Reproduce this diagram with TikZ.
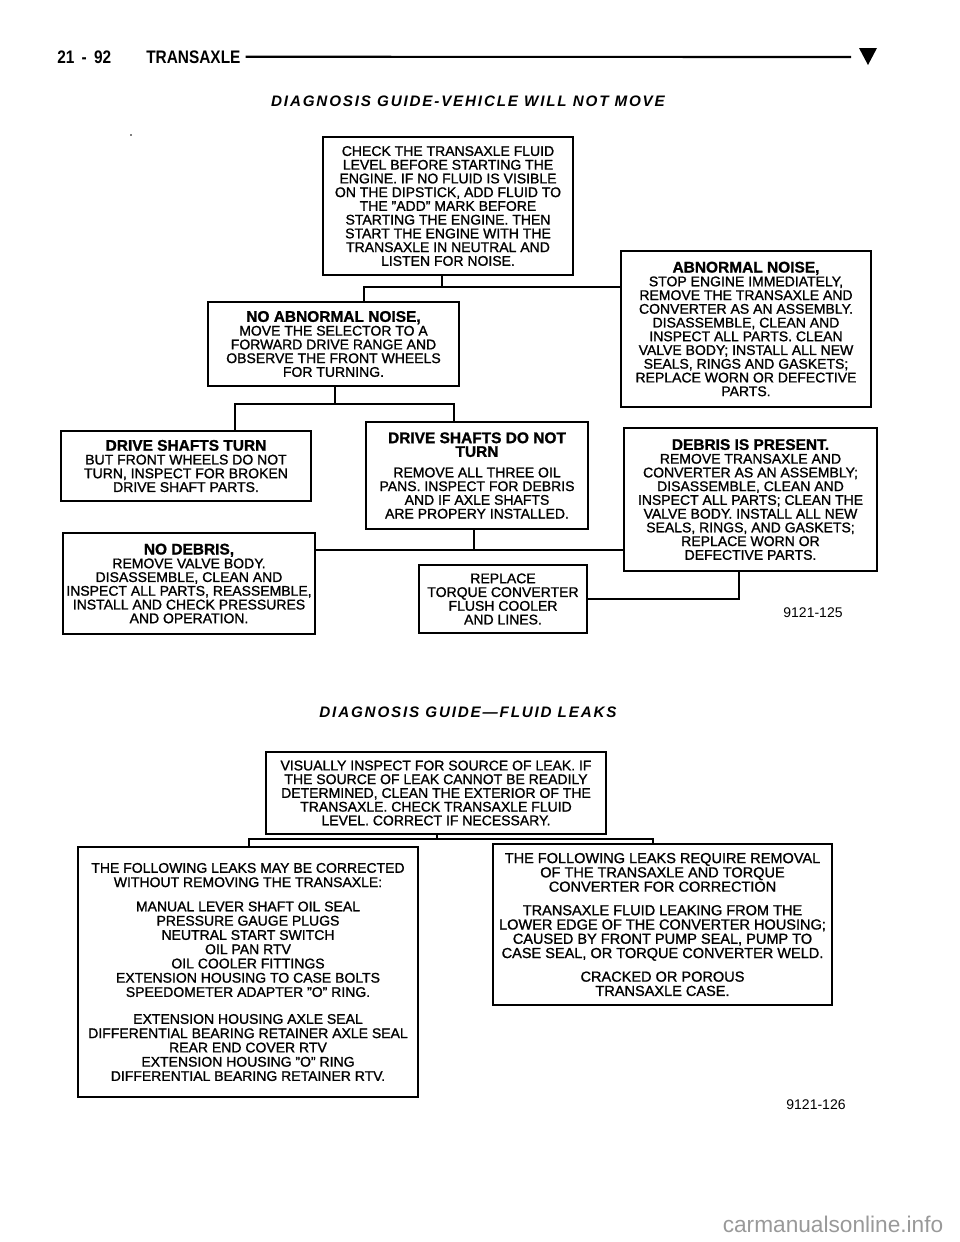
\documentclass[tikz,border=0pt]{standalone}
\usepackage{fontspec}
\setmainfont{Liberation Sans}[FakeBold=1.2]
\newfontfamily\bodyfont{Liberation Sans}[FakeBold=1.2]
\newfontfamily\hdfont{Liberation Sans}[FakeStretch=0.85]
\newfontfamily\ttlfont{Liberation Sans}[LetterSpace=12]
\newfontfamily\wmfont{Liberation Sans}
\newfontfamily\figfont{Liberation Sans}
\newcommand{\hb}[1]{{\fontsize{11.6}{11}\selectfont\bfseries #1}}
\usetikzlibrary{calc}
\begin{document}
\begin{tikzpicture}[x=0.75pt,y=-0.75pt,
  bx/.style={draw, line width=1.4pt, align=center, inner sep=0pt, font=\bodyfont\fontsize{10.5}{10.3}\selectfont},
  bxl/.style={bx, font=\bodyfont\fontsize{10.5}{10.7}\selectfont},
  bxk/.style={bx, font=\bodyfont\fontsize{10.9}{10.7}\selectfont},
  cn/.style={line width=1pt},
  ttl/.style={font=\ttlfont\fontsize{11.4}{12}\selectfont\bfseries\itshape},
  fig/.style={font=\figfont\fontsize{10.5}{12}\selectfont}]
\useasboundingbox (0,0) rectangle (960,1242);
% header
\node[anchor=base west, inner sep=0pt, font=\hdfont\fontsize{13.6}{14}\selectfont\bfseries] (pg) at (57,63) {21\, -\, 92};
\node[anchor=base west, inner sep=0pt, font=\hdfont\fontsize{13.6}{14}\selectfont\bfseries] (hd) at (146,63) {TRANSAXLE};
\coordinate (re) at (851,57);
\draw[line width=1.6pt] ($(hd.east)+(5,0)$) -- (re);
\fill (859,48) -- (877,48) -- (868,65) -- cycle;
% title 1
\node[ttl] (t1) at (468,101) {DIAGNOSIS GUIDE-VEHICLE WILL NOT MOVE};
\fill[gray] (130,134) rectangle (132,136);
% boxes
\node[bx, minimum width=250*0.75pt, minimum height=138*0.75pt] (A) at (448,206) {CHECK THE TRANSAXLE FLUID\\LEVEL BEFORE STARTING THE\\ENGINE. IF NO FLUID IS VISIBLE\\ON THE DIPSTICK, ADD FLUID TO\\THE ”ADD” MARK BEFORE\\STARTING THE ENGINE. THEN\\START THE ENGINE WITH THE\\TRANSAXLE IN NEUTRAL AND\\LISTEN FOR NOISE.};
\node[bx, minimum width=251*0.75pt, minimum height=84*0.75pt] (B) at (333.5,344) {\hb{NO ABNORMAL NOISE,}\\MOVE THE SELECTOR TO A\\FORWARD DRIVE RANGE AND\\OBSERVE THE FRONT WHEELS\\FOR TURNING.};
\node[bx, minimum width=250*0.75pt, minimum height=156*0.75pt] (C) at (746,329) {\hb{ABNORMAL NOISE,}\\STOP ENGINE IMMEDIATELY,\\REMOVE THE TRANSAXLE AND\\CONVERTER AS AN ASSEMBLY.\\DISASSEMBLE, CLEAN AND\\INSPECT ALL PARTS. CLEAN\\VALVE BODY; INSTALL ALL NEW\\SEALS, RINGS AND GASKETS;\\REPLACE WORN OR DEFECTIVE\\PARTS.};
\node[bx, minimum width=250*0.75pt, minimum height=70*0.75pt] (D) at (186,466) {\hb{DRIVE SHAFTS TURN}\\BUT FRONT WHEELS DO NOT\\TURN, INSPECT FOR BROKEN\\DRIVE SHAFT PARTS.};
\node[bx, minimum width=222*0.75pt, minimum height=107*0.75pt] (E) at (477,475.5) {\hb{DRIVE SHAFTS DO NOT}\\\hb{TURN}\\[5pt]REMOVE ALL THREE OIL\\PANS. INSPECT FOR DEBRIS\\AND IF AXLE SHAFTS\\ARE PROPERY INSTALLED.};
\node[bx, minimum width=253*0.75pt, minimum height=143*0.75pt] (F) at (750.5,499.5) {\hb{DEBRIS IS PRESENT.}\\REMOVE TRANSAXLE AND\\CONVERTER AS AN ASSEMBLY;\\DISASSEMBLE, CLEAN AND\\INSPECT ALL PARTS; CLEAN THE\\VALVE BODY. INSTALL ALL NEW\\SEALS, RINGS, AND GASKETS;\\REPLACE WORN OR\\DEFECTIVE PARTS.};
\node[bx, minimum width=252*0.75pt, minimum height=101*0.75pt] (G) at (189,583.5) {\hb{NO DEBRIS,}\\REMOVE VALVE BODY.\\DISASSEMBLE, CLEAN AND\\INSPECT ALL PARTS, REASSEMBLE,\\INSTALL AND CHECK PRESSURES\\AND OPERATION.};
\node[bx, minimum width=168*0.75pt, minimum height=68*0.75pt] (H) at (503,599) {REPLACE\\TORQUE CONVERTER\\FLUSH COOLER\\AND LINES.};
\node[fig] (n1) at (813,613) {9121-125};
% connectors top chart
\coordinate (j1) at (442,287);
\coordinate (xb) at (364,0);
\draw[cn] (A.south -| j1) -- (j1);
\draw[cn] (B.north -| xb) |- (j1 -| C.west);
\coordinate (j2) at (335,404);
\coordinate (xd) at (235,0);
\coordinate (xe) at (454,0);
\draw[cn] (B.south -| j2) -- (j2);
\draw[cn] (D.north -| xd) |- (j2) -| (E.north -| xe);
\coordinate (j3) at (474,550);
\draw[cn] (E.south -| j3) -- (j3);
\draw[cn] (G.east |- j3) -- (F.west |- j3);
\coordinate (xf) at (739,0);
\draw[cn] (F.south -| xf) |- (H.east);
% title 2
\node[ttl] (t2) at (468,712) {DIAGNOSIS GUIDE—FLUID LEAKS};
\node[bx, minimum width=340*0.75pt, minimum height=82*0.75pt] (I) at (436,793) {VISUALLY INSPECT FOR SOURCE OF LEAK. IF\\THE SOURCE OF LEAK CANNOT BE READILY\\DETERMINED, CLEAN THE EXTERIOR OF THE\\TRANSAXLE. CHECK TRANSAXLE FLUID\\LEVEL. CORRECT IF NECESSARY.};
\node[bxl, minimum width=340*0.75pt, minimum height=250*0.75pt] (J) at (248,972) {THE FOLLOWING LEAKS MAY BE CORRECTED\\WITHOUT REMOVING THE TRANSAXLE:\\[7.5pt]MANUAL LEVER SHAFT OIL SEAL\\PRESSURE GAUGE PLUGS\\NEUTRAL START SWITCH\\OIL PAN RTV\\OIL COOLER FITTINGS\\EXTENSION HOUSING TO CASE BOLTS\\SPEEDOMETER ADAPTER ”O” RING.\\[9.5pt]EXTENSION HOUSING AXLE SEAL\\DIFFERENTIAL BEARING RETAINER AXLE SEAL\\REAR END COVER RTV\\EXTENSION HOUSING ”O” RING\\DIFFERENTIAL BEARING RETAINER RTV.};
\node[bxk, minimum width=339*0.75pt, minimum height=161*0.75pt] (K) at (662.5,924.5) {THE FOLLOWING LEAKS REQUIRE REMOVAL\\OF THE TRANSAXLE AND TORQUE\\CONVERTER FOR CORRECTION\\[7pt]TRANSAXLE FLUID LEAKING FROM THE\\LOWER EDGE OF THE CONVERTER HOUSING;\\CAUSED BY FRONT PUMP SEAL, PUMP TO\\CASE SEAL, OR TORQUE CONVERTER WELD.\\[7pt]CRACKED OR POROUS\\TRANSAXLE CASE.};
\coordinate (j4) at (437,839);
\coordinate (xj) at (249,0);
\coordinate (xk) at (653,0);
\draw[line width=1.3pt] (I.south -| j4) -- (j4);
\draw[line width=1.3pt] (J.north -| xj) |- (j4) -| (K.north -| xk);
\node[fig] (n2) at (816,1105) {9121-126};
\node[anchor=east, text=black!40, font=\wmfont\fontsize{17}{18}\selectfont] (wm) at (948,1224) {carmanualsonline.info};
\end{tikzpicture}
\end{document}
